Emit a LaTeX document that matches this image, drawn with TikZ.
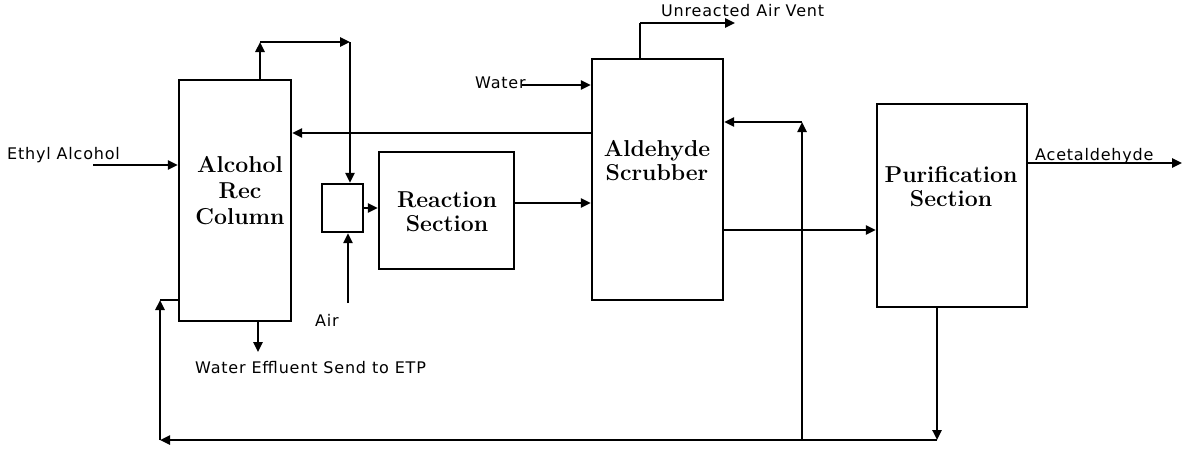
\documentclass[tikz,border=0pt]{standalone}
\usepackage{fontspec}
\newfontfamily\labfont[LetterSpace=5]{DejaVu Sans}
\usetikzlibrary{arrows.meta,calc}
\tikzset{
  box/.style={draw, line width=2.4pt, rectangle, inner sep=0pt},
  boxtext/.style={font=\bfseries\fontsize{23}{24}\selectfont, align=center, inner sep=0pt},
  lab/.style={font=\labfont\fontsize{16}{19}\selectfont, inner sep=0pt, anchor=base west},
  conn/.style={line width=2.4pt},
  arr/.style={line width=2.4pt, -{Triangle[length=10pt,width=9pt]}}
}
\begin{document}
\begin{tikzpicture}[x=1pt,y=-1pt]
\useasboundingbox (0,0) rectangle (1188,448);
% boxes
\node[box, minimum width=112pt, minimum height=241pt] (col) at (235,200.5) {};
\node[box, minimum width=41pt, minimum height=48pt] (mix) at (342.5,208) {};
\node[box, minimum width=135pt, minimum height=117pt] (reac) at (446.5,210.5) {};
\node[box, minimum width=131pt, minimum height=241pt] (scrub) at (657.5,179.5) {};
\node[box, minimum width=150pt, minimum height=203pt] (pur) at (952,205.5) {};
% box texts
\node[boxtext, font=\bfseries\fontsize{23}{26}\selectfont] (coltext) at (240,191) {Alcohol\\Rec\\Column};
\node[boxtext] (reactext) at (447,212) {Reaction\\Section};
\node[boxtext] (scrubtext) at (657,161) {Aldehyde\\Scrubber};
\node[boxtext] (purtext) at (951,187) {Purification\\Section};
% labels
\node[lab] (lEth) at (7,159.3) {Ethyl Alcohol};
\node[lab] (lWater) at (475,88) {Water};
\node[lab] (lVent) at (661,16.7) {Unreacted Air Vent};
\node[lab] (lAir) at (315,326) {Air};
\node[lab] (lEff) at (195,373) {Water Effluent Send to ETP};
\node[lab] (lAce) at (1035,160) {Acetaldehyde};
% helper coordinates
\coordinate (eth) at (93,165);
\coordinate (t1) at (260,42);
\coordinate (t2) at (350,42);
\coordinate (air0) at (348,303);
\coordinate (y203) at (0,203);
\coordinate (y133) at (0,133);
\coordinate (y230) at (0,230);
\coordinate (y163) at (0,163);
\coordinate (w0) at (522,85);
\coordinate (v1) at (640,23);
\coordinate (v2) at (735,23);
\coordinate (ace) at (1182,163);
\coordinate (b1) at (937,440);
\coordinate (b0) at (160,440);
\coordinate (b00) at (160,300);
\coordinate (r0) at (802,440);
\coordinate (r1) at (802,122);
\coordinate (e0) at (258,352);
% connectors
\draw[arr] (eth) -- (eth -| col.west);
\draw[arr] (t1 |- col.north) -- (t1);
\draw[arr] (t1) -- (t2);
\draw[arr] (t2) -- (t2 |- mix.north);
\draw[arr] (air0) -- (air0 |- mix.south);
\draw[arr] (mix.east) -- (mix.east -| reac.west);
\draw[arr] (reac.east |- y203) -- (scrub.west |- y203);
\draw[arr] (scrub.west |- y133) -- (col.east |- y133);
\draw[arr] (w0) -- (w0 -| scrub.west);
\draw[conn] (v1 |- scrub.north) -- (v1);
\draw[arr] (v1) -- (v2);
\draw[arr] (scrub.east |- y230) -- (pur.west |- y230);
\draw[arr] (pur.east |- y163) -- (ace);
\draw[arr] (b1 |- pur.south) -- (b1);
\draw[arr] (b1) -- (b0);
\draw[arr] (b0) -- (b00);
\draw[conn] (b00) -- (b00 -| col.west);
\draw[arr] (r0) -- (r1);
\draw[arr] (r1) -- (r1 -| scrub.east);
\draw[arr] (e0 |- col.south) -- (e0);
\end{tikzpicture}
\end{document}
